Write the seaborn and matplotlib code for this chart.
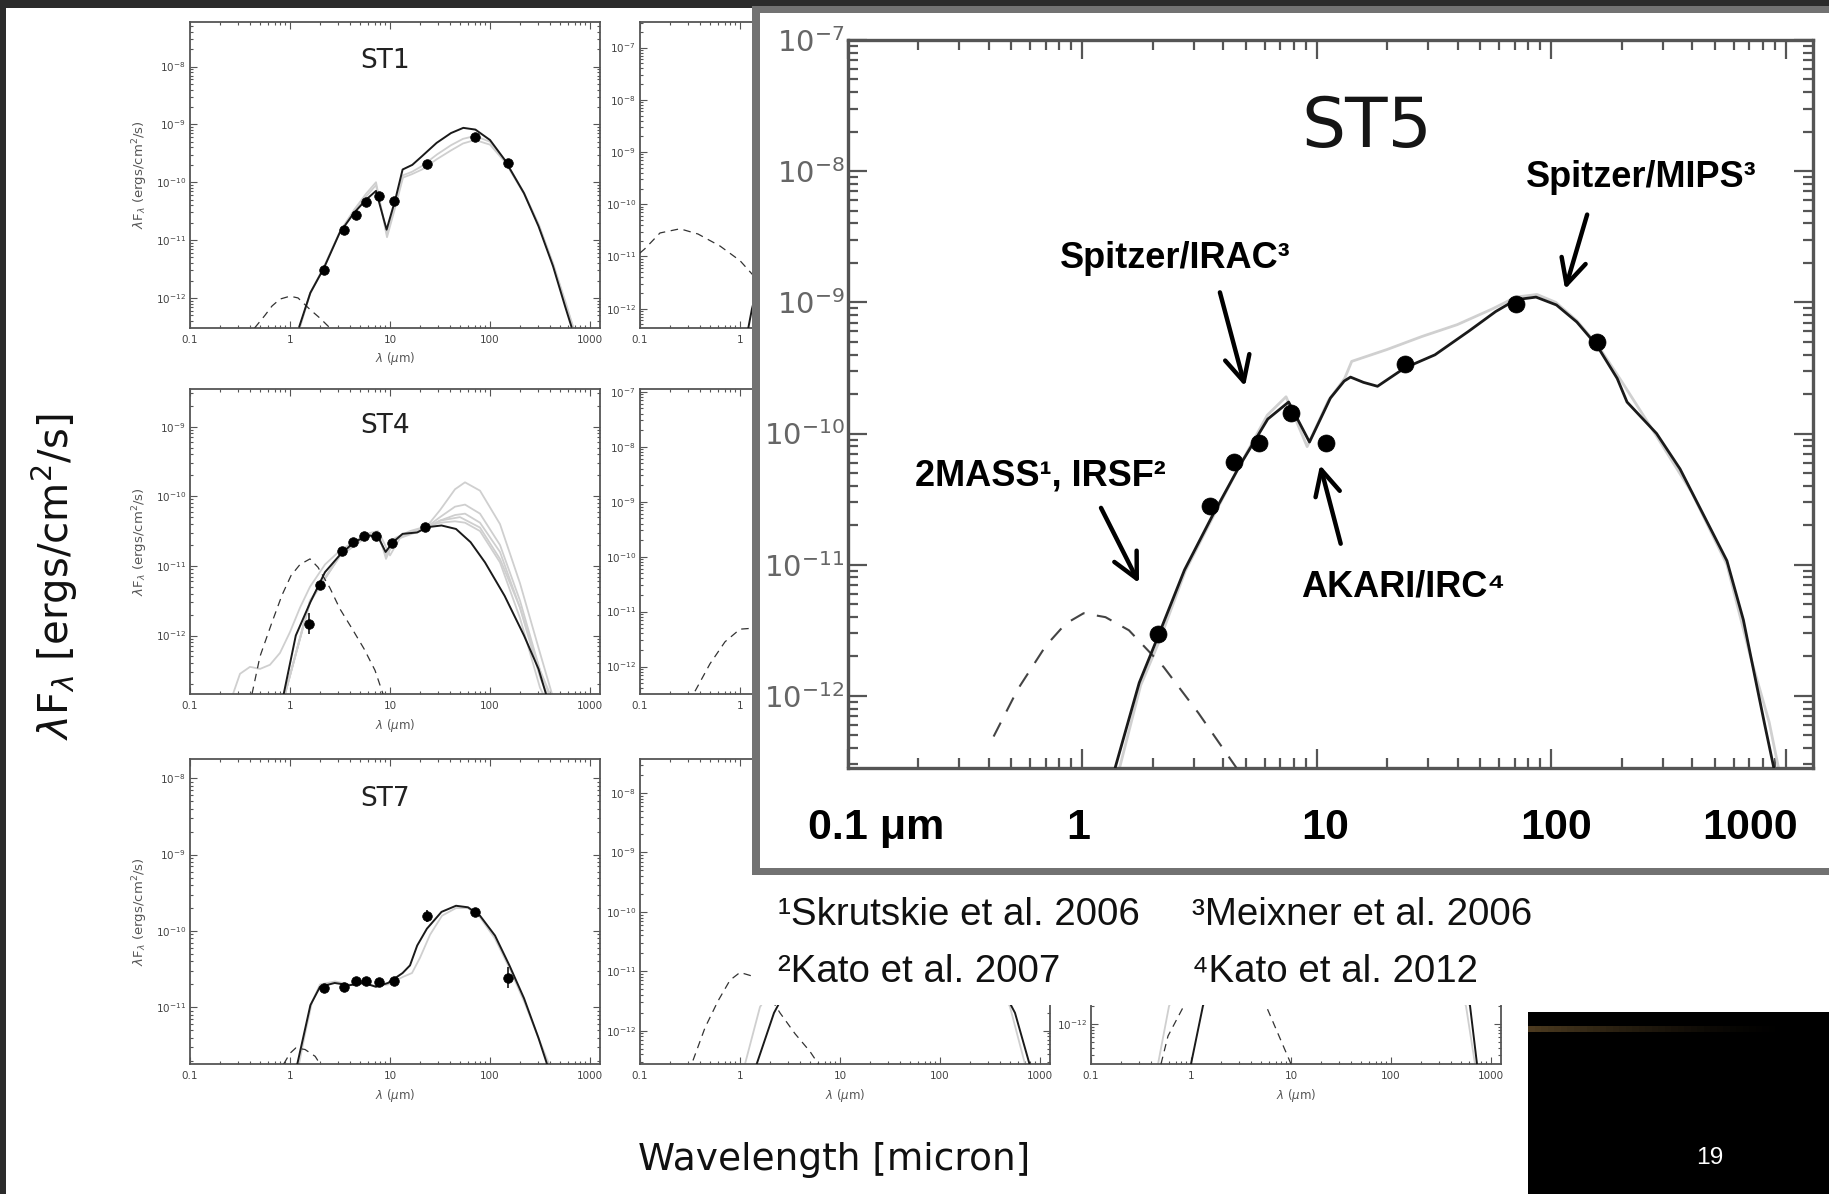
import numpy as np
import matplotlib
matplotlib.use("Agg")
import matplotlib.pyplot as plt
import seaborn as sns
from matplotlib.patches import Rectangle
from matplotlib import font_manager
from matplotlib.ticker import FixedLocator, FixedFormatter, NullFormatter, LogLocator

W, H = 1829, 1194

# ---------------- data: log10(lambda / um), log10(lambda F_lambda / erg cm^-2 s^-1) -------------
# ST1
st1_model_lx = [0.092, 0.204, 0.34, 0.495, 0.64, 0.762, 0.86, 0.966, 1.053, 1.126, 1.223, 1.32, 1.466,
                1.61, 1.733, 1.854, 2.0, 2.146, 2.34, 2.485, 2.63, 2.75, 2.815]
st1_model_ly = [-12.5, -11.91, -11.48, -10.88, -10.53, -10.30, -10.15, -10.82, -10.30, -9.78, -9.70, -9.55,
                -9.32, -9.15, -9.06, -9.09, -9.27, -9.61, -10.19, -10.76, -11.45, -12.14, -12.5]
st1_grey_lx = [0.1, 0.2, 0.34, 0.5, 0.64, 0.76, 0.86, 0.97, 1.05, 1.13, 1.22, 1.32, 1.47, 1.61, 1.73, 1.85,
               2.0, 2.15, 2.34, 2.49, 2.63, 2.76, 2.83]
st1_grey1_ly = [-12.5, -11.92, -11.46, -10.85, -10.48, -10.2, -10.0, -10.95, -10.45, -9.92, -9.86, -9.78,
                -9.6, -9.45, -9.33, -9.27, -9.35, -9.65, -10.2, -10.75, -11.4, -12.1, -12.5]
st1_grey2_ly = [-12.5, -11.93, -11.47, -10.86, -10.5, -10.25, -10.05, -10.9, -10.4, -9.88, -9.82, -9.72,
                -9.52, -9.36, -9.25, -9.2, -9.3, -9.62, -10.18, -10.74, -11.42, -12.12, -12.5]
st1_star_lx = [-0.354, -0.25, -0.18, -0.1, 0.0, 0.08, 0.2, 0.3, 0.4]
st1_star_ly = [-12.52, -12.3, -12.14, -12.02, -11.97, -12.0, -12.2, -12.35, -12.52]
st1_pts_lx = [0.34, 0.544, 0.655, 0.762, 0.893, 1.044, 1.369, 1.854, 2.18]
st1_pts_ly = [-11.52, -10.82, -10.56, -10.34, -10.245, -10.32, -9.686, -9.22, -9.66]

# ST4
st4_model_lx = [-0.063, 0.058, 0.204, 0.35, 0.495, 0.64, 0.786, 0.883, 0.956, 1.03, 1.126, 1.272, 1.37,
                1.515, 1.66, 1.806, 1.95, 2.146, 2.34, 2.485, 2.56]
st4_model_ly = [-12.84, -12.0, -11.52, -11.09, -10.85, -10.66, -10.56, -10.59, -10.80, -10.66, -10.54,
                -10.52, -10.445, -10.42, -10.47, -10.66, -10.95, -11.43, -12.0, -12.48, -12.84]
st4_grey_lx = [-0.05, 0.2, 0.5, 0.79, 0.88, 0.96, 1.05, 1.2, 1.37, 1.5, 1.65, 1.75, 1.9, 2.1, 2.3, 2.5, 2.62]
st4_grey1_ly = [-12.84, -11.5, -10.84, -10.53, -10.5, -10.9, -10.6, -10.5, -10.43, -10.2, -9.9, -9.8,
                -9.92, -10.4, -11.25, -12.25, -12.84]
st4_grey2_ly = [-12.84, -11.52, -10.85, -10.55, -10.55, -10.85, -10.62, -10.52, -10.44, -10.3, -10.15,
                -10.12, -10.25, -10.7, -11.5, -12.5, -12.95]
st4_grey3_ly = [-12.84, -11.5, -10.86, -10.56, -10.58, -10.82, -10.63, -10.53, -10.45, -10.35, -10.27,
                -10.25, -10.38, -10.8, -11.6, -12.6, -13.0]
st4_grey4_ly = [-12.84, -11.51, -10.85, -10.55, -10.56, -10.84, -10.62, -10.52, -10.44, -10.38, -10.36,
                -10.38, -10.5, -10.95, -11.75, -12.75, -13.1]
st4_grey5_lx = [-0.57, -0.5, -0.4, -0.3, -0.2, -0.1, 0.0, 0.1, 0.2, 0.35, 0.5, 0.7, 0.9, 1.0, 1.1, 1.3,
                1.5, 1.7, 1.9, 2.1, 2.3, 2.5, 2.6]
st4_grey5_ly = [-12.84, -12.55, -12.45, -12.48, -12.42, -12.25, -11.95, -11.6, -11.3, -10.98, -10.78,
                -10.6, -10.55, -10.85, -10.6, -10.5, -10.35, -10.3, -10.45, -10.9, -11.6, -12.5, -12.84]
st4_star_lx = [-0.38, -0.3, -0.18, -0.08, 0.01, 0.1, 0.2, 0.28, 0.4, 0.5, 0.62, 0.74, 0.85, 0.93]
st4_star_ly = [-12.84, -12.3, -11.81, -11.42, -11.14, -10.98, -10.9, -11.02, -11.32, -11.62, -11.9,
               -12.19, -12.5, -12.84]
st4_pts_lx = [0.194, 0.30, 0.524, 0.631, 0.738, 0.864, 1.02, 1.354]
st4_pts_ly = [-11.83, -11.28, -10.79, -10.65, -10.565, -10.565, -10.67, -10.445]
st4_err = [0.15, 0, 0, 0, 0, 0, 0, 0]

# ST7
st7_model_lx = [0.073, 0.131, 0.204, 0.30, 0.447, 0.592, 0.738, 0.859, 0.98, 1.126, 1.2, 1.272, 1.369,
                1.515, 1.66, 1.78, 1.90, 2.05, 2.194, 2.34, 2.485, 2.57]
st7_model_ly = [-11.74, -11.40, -10.97, -10.73, -10.68, -10.71, -10.68, -10.73, -10.68, -10.55, -10.45,
                -10.19, -9.97, -9.75, -9.67, -9.69, -9.80, -10.06, -10.45, -10.88, -11.40, -11.74]
st7_grey_lx = [0.09, 0.15, 0.22, 0.3, 0.45, 0.6, 0.74, 0.86, 0.98, 1.13, 1.22, 1.3, 1.4, 1.52, 1.66, 1.78,
               1.9, 2.05, 2.2, 2.35, 2.5, 2.59]
st7_grey_ly = [-11.74, -11.35, -10.93, -10.7, -10.66, -10.7, -10.68, -10.72, -10.7, -10.6, -10.55, -10.35,
               -10.05, -9.8, -9.7, -9.7, -9.82, -10.1, -10.5, -10.95, -11.45, -11.74]
st7_star_lx = [-0.063, 0.0, 0.058, 0.15, 0.252, 0.30]
st7_star_ly = [-11.74, -11.6, -11.53, -11.55, -11.64, -11.74]
st7_pts_lx = [0.34, 0.544, 0.655, 0.762, 0.893, 1.039, 1.369, 1.854, 2.184]
st7_pts_ly = [-10.74, -10.73, -10.65, -10.65, -10.67, -10.65, -9.80, -9.75, -10.61]
st7_err = [0, 0, 0, 0, 0, 0, 0.08, 0, 0.14]

# second-column / third-column sources (only edges visible)
b1_star_lx = [-1.1, -0.95, -0.8, -0.6, -0.42, -0.2, 0.0, 0.15, 0.3, 0.45, 0.6]
b1_star_ly = [-11.1, -10.85, -10.55, -10.47, -10.57, -10.8, -11.08, -11.4, -11.75, -12.1, -12.4]
b1_model_lx = [0.08, 0.12, 0.2, 0.4, 0.7, 1.0, 1.4, 1.8, 2.2, 2.6, 2.9]
b1_model_ly = [-12.4, -12.0, -11.4, -10.8, -10.4, -10.2, -9.8, -9.6, -9.9, -11.0, -12.4]

b2_star_lx = [-0.45, -0.3, -0.15, 0.0, 0.15, 0.3, 0.45, 0.6]
b2_star_ly = [-12.45, -11.95, -11.55, -11.32, -11.3, -11.5, -11.9, -12.5]
b2_model_lx = [0.3, 0.5, 0.8, 1.2, 1.6, 2.0, 2.4, 2.8]
b2_model_ly = [-12.5, -11.5, -10.8, -10.3, -10.0, -10.1, -10.9, -12.5]

b3_star_lx = [-0.47, -0.35, -0.22, -0.1, 0.0, 0.12, 0.25, 0.4, 0.55, 0.7, 0.8]
b3_star_ly = [-12.5, -11.95, -11.5, -11.15, -11.02, -11.08, -11.3, -11.7, -12.05, -12.35, -12.6]
b3_model_lx = [0.167, 0.34, 0.5, 0.7, 1.0, 1.3, 1.6, 1.9, 2.2, 2.5, 2.75, 2.895]
b3_model_ly = [-12.56, -11.7, -11.2, -10.9, -10.8, -10.5, -10.2, -10.1, -10.3, -10.9, -11.7, -12.56]
b3_grey_lx = [0.05, 0.2, 0.4, 0.7, 1.0, 1.3, 1.6, 1.9, 2.2, 2.5, 2.7, 2.85]
b3_grey_ly = [-12.56, -11.6, -11.1, -10.85, -10.75, -10.45, -10.15, -10.05, -10.25, -10.85, -11.6, -12.56]

c3_star_lx = [-0.3, -0.23, -0.07, 0.1, 0.25, 0.4, 0.55, 0.75, 0.88, 1.0]
c3_star_ly = [-12.67, -12.2, -11.69, -11.2, -10.95, -10.9, -11.1, -11.69, -12.2, -12.67]
c3_model_lx = [0.0, 0.12, 0.3, 0.6, 1.0, 1.4, 1.8, 2.2, 2.5, 2.79, 2.86]
c3_model_ly = [-12.67, -11.69, -11.0, -10.5, -10.3, -10.0, -9.8, -10.0, -10.6, -11.69, -12.67]
c3_grey_lx = [-0.33, -0.22, -0.05, 0.2, 0.6, 1.0, 1.4, 1.8, 2.2, 2.5, 2.75, 2.84]
c3_grey_ly = [-12.67, -11.7, -11.1, -10.6, -10.4, -10.3, -10.0, -9.8, -10.0, -10.6, -11.7, -12.67]

# ST5 (enlarged)
st5_model_lx = [0.141, 0.244, 0.319, 0.437, 0.555, 0.674, 0.792, 0.881, 0.97, 1.059, 1.118, 1.145, 1.20,
                1.26, 1.376, 1.505, 1.649, 1.764, 1.85, 1.936, 2.023, 2.11, 2.196, 2.282, 2.324, 2.45, 2.55,
                2.65, 2.75, 2.82, 2.87, 2.91, 2.95]
st5_model_ly = [-12.55, -11.90, -11.57, -11.04, -10.63, -10.24, -9.89, -9.76, -10.065, -9.73, -9.60, -9.57,
                -9.61, -9.64, -9.50, -9.40, -9.22, -9.07, -8.98, -8.96, -9.02, -9.15, -9.33, -9.58, -9.76,
                -10.0, -10.27, -10.62, -10.97, -11.42, -11.86, -12.21, -12.55]
st5_grey_lx = [0.16, 0.25, 0.33, 0.44, 0.56, 0.68, 0.79, 0.87, 0.96, 1.05, 1.12, 1.15, 1.3, 1.45, 1.6, 1.75,
               1.85, 1.94, 2.02, 2.11, 2.2, 2.3, 2.45, 2.6, 2.75, 2.85, 2.93, 2.97]
st5_grey_ly = [-12.55, -11.92, -11.58, -11.05, -10.63, -10.22, -9.86, -9.72, -10.1, -9.75, -9.58, -9.45,
               -9.36, -9.26, -9.17, -9.05, -8.96, -8.94, -9.0, -9.14, -9.33, -9.6, -10.02, -10.45, -11.0,
               -11.7, -12.2, -12.55]
st5_star_lx = [-0.377, -0.274, -0.155, -0.07, 0.007, 0.1, 0.2, 0.348, 0.496, 0.659]
st5_star_ly = [-12.31, -11.95, -11.62, -11.45, -11.37, -11.4, -11.50, -11.78, -12.13, -12.55]
st5_pts_lx = [0.323, 0.547, 0.647, 0.756, 0.89, 1.04, 1.378, 1.851, 2.194]
st5_pts_ly = [-11.53, -10.549, -10.22, -10.07, -9.84, -10.07, -9.469, -9.009, -9.30]

small_xticks = [0.1, 1, 10, 100, 1000]
small_xticklabels = ["0.1", "1", "10", "100", "1000"]
inset_xlabels = ["0.1 \u03bcm", "1", "10", "100", "1000"]
refs_left = ["\u00b9Skrutskie et al. 2006", "\u00b2Kato et al. 2007"]
refs_right = ["\u00b3Meixner et al. 2006", "\u2074Kato et al. 2012"]

# ---------------- style ----------------
sns.set_theme(style="white")
plt.rcParams['font.family'] = ['DejaVu Sans']
plt.rcParams['mathtext.fontset'] = 'dejavusans'

names = {f.name for f in font_manager.fontManager.ttflist}
if 'Liberation Sans Narrow' in names:
    NARROW = ['Liberation Sans Narrow', 'DejaVu Sans']
    ns = 1.0
else:
    NARROW = ['Liberation Sans', 'DejaVu Sans']
    ns = 0.84
ARIAL = ['Liberation Sans', 'DejaVu Sans']

fig = plt.figure(figsize=(W / 100, H / 100), dpi=100)
fig.patch.set_facecolor('white')


def fbox(x0, y0, x1, y1):
    return [x0 / W, 1 - y1 / H, (x1 - x0) / W, (y1 - y0) / H]


def L(v):
    return 10 ** np.asarray(v, dtype=float)


def line(ax, lx, ly, color, lw, dashes=None, z=2):
    sns.lineplot(x=L(lx), y=L(ly), ax=ax, color=color, lw=lw, sort=False, estimator=None, zorder=z)
    ln = ax.lines[-1]
    if dashes is not None:
        ln.set_dashes(dashes)
    ln.set_solid_capstyle('round')


def style_log_axes(ax, ylo, yhi, xlab_size, ylab_size, maj_len, min_len, spine_lw, tick_w, ycolor,
                   nxlabels=5, ylab_keep=None):
    ax.set_xscale('log')
    ax.set_yscale('log')
    ax.set_xlim(0.1, 10 ** 3.1)
    ax.set_ylim(10 ** ylo, 10 ** yhi)
    ax.xaxis.set_major_locator(FixedLocator(small_xticks))
    labs = [t if i < nxlabels else '' for i, t in enumerate(small_xticklabels)]
    ax.xaxis.set_major_formatter(FixedFormatter(labs))
    ax.xaxis.set_minor_locator(LogLocator(base=10, subs=np.arange(2, 10), numticks=30))
    ax.xaxis.set_minor_formatter(NullFormatter())
    decs = list(range(int(np.ceil(ylo - 1e-6)), int(np.floor(yhi + 0.02)) + 1))
    ax.yaxis.set_major_locator(FixedLocator([10.0 ** d for d in decs]))
    ax.yaxis.set_major_formatter(FixedFormatter(
        [r'$10^{%d}$' % d if (ylab_keep is None or d in ylab_keep) else '' for d in decs]))
    ax.yaxis.set_minor_locator(LogLocator(base=10, subs=np.arange(2, 10), numticks=30))
    ax.yaxis.set_minor_formatter(NullFormatter())
    ax.tick_params(which='both', direction='in', top=True, right=True, bottom=True, left=True,
                   color='#555555', width=tick_w)
    ax.tick_params(axis='x', which='major', length=maj_len, labelsize=xlab_size, labelcolor='#444444', pad=5)
    ax.tick_params(axis='y', which='major', length=maj_len, labelsize=ylab_size, labelcolor=ycolor, pad=3)
    ax.tick_params(which='minor', length=min_len)
    for s in ax.spines.values():
        s.set_color('#555555')
        s.set_linewidth(spine_lw)
        s.set_visible(True)
    ax.set_facecolor('white')
    ax.grid(False)


def small_panel(box, ylim, model, greys, star, pts=None, errs=None, title=None, ylabel=False,
                title_pos=(0.476, 0.873), xlabel=True, nxlabels=5, ylab_keep=None):
    ax = fig.add_axes(fbox(*box), zorder=1)
    style_log_axes(ax, ylim[0], ylim[1], 7.5, 7.5, 5, 2.5, 1.3, 0.8, '#444444', nxlabels, ylab_keep)
    for gx, gy in greys:
        line(ax, gx, gy, '#cfcfcf', 1.3, z=2)
    line(ax, star[0], star[1], '#333333', 0.9, dashes=[6, 4.5], z=3)
    line(ax, model[0], model[1], '#1a1a1a', 1.4, z=4)
    if pts is not None:
        if errs is not None:
            for x, y, e in zip(pts[0], pts[1], errs):
                if e > 0:
                    ax.vlines(10 ** x, 10 ** (y - e), 10 ** (y + e), color='black', lw=1.1, zorder=5)
        sns.scatterplot(x=L(pts[0]), y=L(pts[1]), ax=ax, color='black', s=48, edgecolor='black',
                        linewidth=0.5, zorder=6)
    ax.set_xlim(0.1, 10 ** 3.1)
    ax.set_ylim(10 ** ylim[0], 10 ** ylim[1])
    if xlabel:
        ax.set_xlabel(r'$\lambda$ ($\mu$m)', fontsize=8.5, color='#555555', labelpad=4)
    else:
        ax.set_xlabel('')
    if ylabel:
        ax.set_ylabel(r'$\lambda$F$_\lambda$ (ergs/cm$^2$/s)', fontsize=9.5, color='#555555')
        ax.yaxis.set_label_coords(-0.098, 0.5)
    else:
        ax.set_ylabel('')
    if title:
        ax.text(title_pos[0], title_pos[1], title, transform=ax.transAxes, ha='center', va='center',
                fontsize=19, color='#222222')
    return ax


C1, C2, C3 = (190, 600), (640, 1050), (1091, 1501)
R1, R2, R3 = (22, 328), (389, 694), (759, 1064)

small_panel((C1[0], R1[0], C1[1], R1[1]), (-12.52, -7.23), (st1_model_lx, st1_model_ly),
            [(st1_grey_lx, st1_grey1_ly), (st1_grey_lx, st1_grey2_ly)], (st1_star_lx, st1_star_ly),
            (st1_pts_lx, st1_pts_ly), None, 'ST1', True)
small_panel((C1[0], R2[0], C1[1], R2[1]), (-12.84, -8.46), (st4_model_lx, st4_model_ly),
            [(st4_grey_lx, st4_grey1_ly), (st4_grey_lx, st4_grey2_ly), (st4_grey_lx, st4_grey3_ly),
             (st4_grey_lx, st4_grey4_ly), (st4_grey5_lx, st4_grey5_ly)],
            (st4_star_lx, st4_star_ly), (st4_pts_lx, st4_pts_ly), st4_err, 'ST4', True, (0.476, 0.879))
small_panel((C1[0], R3[0], C1[1], R3[1]), (-11.74, -7.75), (st7_model_lx, st7_model_ly),
            [(st7_grey_lx, st7_grey_ly)], (st7_star_lx, st7_star_ly),
            (st7_pts_lx, st7_pts_ly), st7_err, 'ST7', True, (0.476, 0.87))
small_panel((C2[0], R1[0], C2[1], R1[1]), (-12.37, -6.51), (b1_model_lx, b1_model_ly), [],
            (b1_star_lx, b1_star_ly), xlabel=False, nxlabels=2)
small_panel((C2[0], R2[0], C2[1], R2[1]), (-12.5, -6.95), (b2_model_lx, b2_model_ly), [],
            (b2_star_lx, b2_star_ly), xlabel=False, nxlabels=2)
small_panel((C2[0], R3[0], C2[1], R3[1]), (-12.56, -7.43), (b3_model_lx, b3_model_ly),
            [(b3_grey_lx, b3_grey_ly)], (b3_star_lx, b3_star_ly))
small_panel((C3[0], R3[0], C3[1], R3[1]), (-12.67, -7.55), (c3_model_lx, c3_model_ly),
            [(c3_grey_lx, c3_grey_ly)], (c3_star_lx, c3_star_ly), ylab_keep=[-12])

# ---------------- overlay: slide furniture ----------------
ov = fig.add_axes([0, 0, 1, 1], zorder=5)
ov.set_xlim(0, W)
ov.set_ylim(H, 0)
ov.axis('off')
ov.patch.set_visible(False)
ov.add_patch(Rectangle((0, 0), W, 8, fc='#2b2b2b', ec='none', zorder=1))
ov.add_patch(Rectangle((0, 0), 6, H, fc='#2b2b2b', ec='none', zorder=1))
# inset frame
ov.add_patch(Rectangle((752, 6), W, 875 - 6, fc='#727272', ec='none', zorder=2))
ov.add_patch(Rectangle((760, 13), W, 868 - 13, fc='white', ec='none', zorder=3))
# white cover for references
ov.add_patch(Rectangle((752, 875), W, 1005 - 875, fc='white', ec='none', zorder=2))
# black page-number box
ov.add_patch(Rectangle((1528, 1012), W - 1528, H - 1012, fc='black', ec='none', zorder=2))
nseg = 40
for i in range(nseg):
    a = 0.75 * (1 - i / nseg) ** 1.5
    ov.add_patch(Rectangle((1528 + i * 6.5, 1026), 6.6, 6, fc=(0.40, 0.31, 0.17), alpha=a, ec='none', zorder=3))
ov.text(1710, 1158, "19", color='white', fontsize=21 * ns, family=NARROW, ha='center', va='center', zorder=4)

ov.text(55, 577, r'$\lambda$F$_\lambda$ [ergs/cm$^2$/s]', rotation=90, ha='center', va='center',
        fontsize=29, color='#111111', zorder=4)
ov.text(834, 1160, 'Wavelength [micron]', ha='center', va='center', fontsize=27, color='#111111', zorder=4)

for txt, y in zip(refs_left, [915, 972]):
    ov.text(778, y, txt, ha='left', va='center', fontsize=33 * ns, family=NARROW, color='#111111', zorder=4)
for txt, y in zip(refs_right, [915, 972]):
    ov.text(1192, y, txt, ha='left', va='center', fontsize=33 * ns, family=NARROW, color='#111111', zorder=4)

# ---------------- enlarged ST5 panel ----------------
axi = fig.add_axes(fbox(847.5, 40, 1813, 768), zorder=6)
style_log_axes(axi, -12.55, -7.0, 1, 21, 14, 7, 2.4, 1.6, '#666666')
axi.set_xlim(0.1, 10 ** 3.117)
axi.xaxis.set_major_formatter(NullFormatter())
axi.tick_params(axis='y', which='major', pad=2)
line(axi, st5_grey_lx, st5_grey_ly, '#d0d0d0', 2.0, z=2)
line(axi, st5_star_lx, st5_star_ly, '#444444', 1.5, dashes=[7.5, 6], z=3)
line(axi, st5_model_lx, st5_model_ly, '#1a1a1a', 2.0, z=4)
sns.scatterplot(x=L(st5_pts_lx), y=L(st5_pts_ly), ax=axi, color='black', s=150, edgecolor='black',
                linewidth=0.5, zorder=6)
axi.set_xlim(0.1, 10 ** 3.117)
axi.set_ylim(10 ** -12.55, 10 ** -7.0)
axi.set_xlabel('')
axi.set_ylabel('')

for lab, fx in zip(inset_xlabels, [0.0295, 0.2387, 0.4945, 0.7338, 0.9347]):
    axi.text(fx, -0.0824, lab, transform=axi.transAxes, ha='center', va='center', fontsize=31,
             fontweight='bold', family=ARIAL, color='black')

axi.text(10 ** 1.215, 10 ** -7.67, 'ST5', ha='center', va='center', fontsize=50, color='#151515')

ann = dict(ha='center', va='center', fontsize=31 * ns, fontweight='bold', family=NARROW, color='black')
axi.text(10 ** 2.384, 10 ** -8.05, 'Spitzer/MIPS\u00b3', **ann)
axi.text(10 ** 0.397, 10 ** -8.665, 'Spitzer/IRAC\u00b3', **ann)
axi.text(10 ** -0.179, 10 ** -10.323, '2MASS\u00b9, IRSF\u00b2', **ann)
axi.text(10 ** 1.37, 10 ** -11.167, 'AKARI/IRC\u2074', **ann)

arrow_tails = [(2.154, -8.331), (0.588, -8.924), (0.081, -10.567), (1.103, -10.84)]
arrow_tips = [(2.06, -8.90), (0.695, -9.64), (0.243, -11.14), (1.015, -10.24)]
for (tx, ty), (hx, hy) in zip(arrow_tails, arrow_tips):
    axi.annotate('', xy=(10 ** hx, 10 ** hy), xytext=(10 ** tx, 10 ** ty), xycoords='data',
                 textcoords='data',
                 arrowprops=dict(arrowstyle='->,head_length=0.6,head_width=0.3', lw=3.2, color='black',
                                 shrinkA=0, shrinkB=0, mutation_scale=30))

fig.savefig('out.png', dpi=100, facecolor='white')
